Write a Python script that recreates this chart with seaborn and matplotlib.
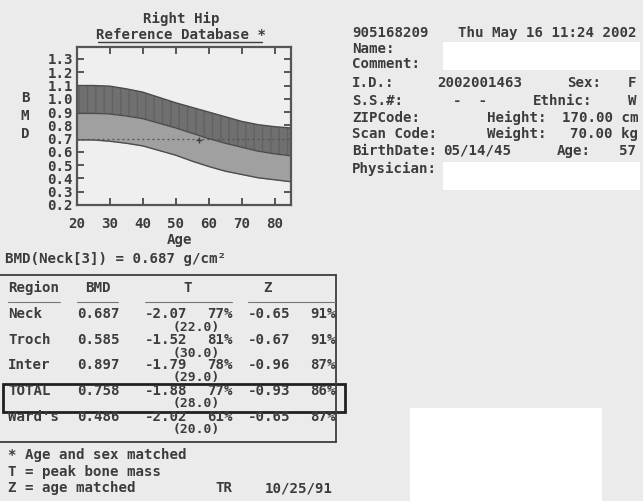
import numpy as np
import pandas as pd
import seaborn as sns
import matplotlib.pyplot as plt
from matplotlib.patches import Rectangle
from matplotlib.lines import Line2D

# curva de referencia (idade x BMD)
ages = [20, 25, 30, 35, 40, 45, 50, 55, 60, 65, 70, 75, 80, 85]
upper = [1.10, 1.10, 1.095, 1.075, 1.05, 1.01, 0.97, 0.935, 0.90, 0.865, 0.83, 0.805, 0.79, 0.78]
mean = [0.89, 0.89, 0.885, 0.87, 0.85, 0.815, 0.78, 0.74, 0.70, 0.665, 0.635, 0.605, 0.585, 0.57]
lower = [0.69, 0.69, 0.68, 0.665, 0.645, 0.61, 0.575, 0.53, 0.49, 0.455, 0.43, 0.405, 0.39, 0.375]
ref_line = 0.70
patient_age = 57
patient_bmd = 0.687

xticks = [20, 30, 40, 50, 60, 70, 80]
yticks = [0.2, 0.3, 0.4, 0.5, 0.6, 0.7, 0.8, 0.9, 1.0, 1.1, 1.2, 1.3]
ytick_labels = ["0.2", "0.3", "0.4", "0.5", "0.6", "0.7", "0.8", "0.9", "1.0", "1.1", "1.2", "1.3"]

# tabela de resultados
regions = ["Neck", "Troch", "Inter", "TOTAL", "Ward's"]
bmd = ["0.687", "0.585", "0.897", "0.758", "0.486"]
t_score = ["-2.07", "-1.52", "-1.79", "-1.88", "-2.02"]
t_pct = ["77%", "81%", "78%", "77%", "61%"]
t_age = ["(22.0)", "(30.0)", "(29.0)", "(28.0)", "(20.0)"]
z_score = ["-0.65", "-0.67", "-0.96", "-0.93", "-0.65"]
z_pct = ["91%", "91%", "87%", "86%", "87%"]

# dados do paciente
info_labels = ["Name:", "Comment:", "I.D.:", "S.S.#:", "ZIPCode:", "Scan Code:", "BirthDate:", "Physician:"]

W, H = 643, 501
BG = "#ebebeb"
INK = "#3c3c3c"

sns.set_theme(style="ticks")
plt.rcParams["font.family"] = ["DejaVu Sans Mono", "DejaVu Sans"]
plt.rcParams["font.weight"] = "bold"
FS = 10.2


def px(x, y):
    return x / W, 1 - y / H


def txt(x, y, s, ha="left", **kw):
    fig.text(*px(x, y), s, ha=ha, va="center", fontsize=kw.pop("fontsize", FS),
             color=kw.pop("color", INK), fontweight="bold", **kw)


def hline(x0, x1, y, lw=1.0, color=INK):
    fig.add_artist(Line2D([x0 / W, x1 / W], [1 - y / H, 1 - y / H], lw=lw, color=color))


def vline(x, y0, y1, lw=1.0, color=INK):
    fig.add_artist(Line2D([x / W, x / W], [1 - y0 / H, 1 - y1 / H], lw=lw, color=color))


fig = plt.figure(figsize=(W / 100, H / 100), dpi=100, facecolor=BG)

# -------------------------
# grafico de referencia
# -------------------------
l, r, t, b = 77, 291, 47, 205
ax = fig.add_axes([l / W, 1 - b / H, (r - l) / W, (b - t) / H])
ax.set_facecolor("#efefef")

df = pd.DataFrame({"age": ages, "upper": upper, "mean": mean, "lower": lower})
ax.fill_between(df["age"], df["mean"], df["upper"], color="#707070", lw=0,
                hatch="||", edgecolor="#626262")
ax.fill_between(df["age"], df["lower"], df["mean"], color="#a0a0a0", lw=0)
for col in ["upper", "mean", "lower"]:
    sns.lineplot(data=df, x="age", y=col, ax=ax, color="#4c4c4c", lw=1.0)
ax.axhline(ref_line, color="#505050", ls=(0, (1.5, 2.5)), lw=0.9)
ax.plot([patient_age], [patient_bmd], marker="+", color="#404040", ms=4, mew=1)

ax.set_xlim(20, 85)
ax.set_ylim(0.2, 1.39)
ax.set_xticks(xticks)
ax.set_yticks(yticks)
ax.set_yticklabels(ytick_labels)
ax.set_xlabel("")
ax.set_ylabel("")
ax.tick_params(direction="in", length=5, width=1.2, colors=INK, top=True, right=True,
               labelsize=FS)
ax.tick_params(axis="y", pad=3)
ax.tick_params(axis="x", pad=9)
for lab in ax.get_xticklabels() + ax.get_yticklabels():
    lab.set_fontweight("bold")
for sp in ax.spines.values():
    sp.set_visible(True)
    sp.set_linewidth(1.6)
    sp.set_color("#555555")

txt(181, 19, "Right Hip", ha="center")
txt(181, 35, "Reference Database *", ha="center")
hline(98, 262, 42, lw=1.0)
for i, ch in enumerate("BMD"):
    txt(25, 98 + i * 18, ch, ha="center")
txt(180, 240, "Age", ha="center")
txt(5, 259, "BMD(Neck[3]) = 0.687 g/cm²")

# -------------------------
# tabela
# -------------------------
hline(0, 336, 275, lw=1.3)
vline(336, 275, 442, lw=1.3)
hline(0, 336, 442, lw=1.3)
txt(8, 288, "Region")
txt(85, 288, "BMD")
txt(188, 288, "T", ha="center")
txt(268, 288, "Z", ha="center")
for x0, x1 in [(8, 60), (77, 118), (145, 232), (248, 335)]:
    hline(x0, x1, 302, lw=0.8, color="#777777")

row_y = [314, 340, 365, 391, 417]
for i, y in enumerate(row_y):
    txt(8, y, regions[i])
    txt(77, y, bmd[i])
    txt(145, y, t_score[i])
    txt(207, y, t_pct[i])
    txt(173, y + 13, t_age[i], fontsize=9.4)
    txt(248, y, z_score[i])
    txt(310, y, z_pct[i])

fig.add_artist(Rectangle(px(3, 412), 342 / W, 28 / H, fill=False, lw=2, ec="#202020"))

txt(8, 455, "* Age and sex matched")
txt(8, 472, "T = peak bone mass")
txt(8, 488, "Z = age matched")
txt(215, 488, "TR")
txt(265, 488, "10/25/91")

# -------------------------
# dados do paciente
# -------------------------
fig.add_artist(Rectangle(px(443, 70), 197 / W, 28 / H, color="white", lw=0))
fig.add_artist(Rectangle(px(443, 190), 197 / W, 28 / H, color="white", lw=0))
fig.add_artist(Rectangle(px(410, 501), 192 / W, 93 / H, color="white", lw=0))

txt(352, 33, "905168209")
txt(636, 33, "Thu May 16 11:24 2002", ha="right")
info_y = [49, 64, 83, 101, 118, 134, 151, 169]
for lab, y in zip(info_labels, info_y):
    txt(352, y, lab)
txt(437, 83, "2002001463")
txt(567, 83, "Sex:")
txt(636, 83, "F", ha="right")
txt(453, 101, "-  -")
txt(533, 101, "Ethnic:")
txt(636, 101, "W", ha="right")
txt(487, 118, "Height:")
txt(638, 118, "170.00 cm", ha="right")
txt(487, 134, "Weight:")
txt(638, 134, "70.00 kg", ha="right")
txt(443, 151, "05/14/45")
txt(557, 151, "Age:")
txt(636, 151, "57", ha="right")

fig.savefig("out.png", dpi=100, facecolor=BG)
